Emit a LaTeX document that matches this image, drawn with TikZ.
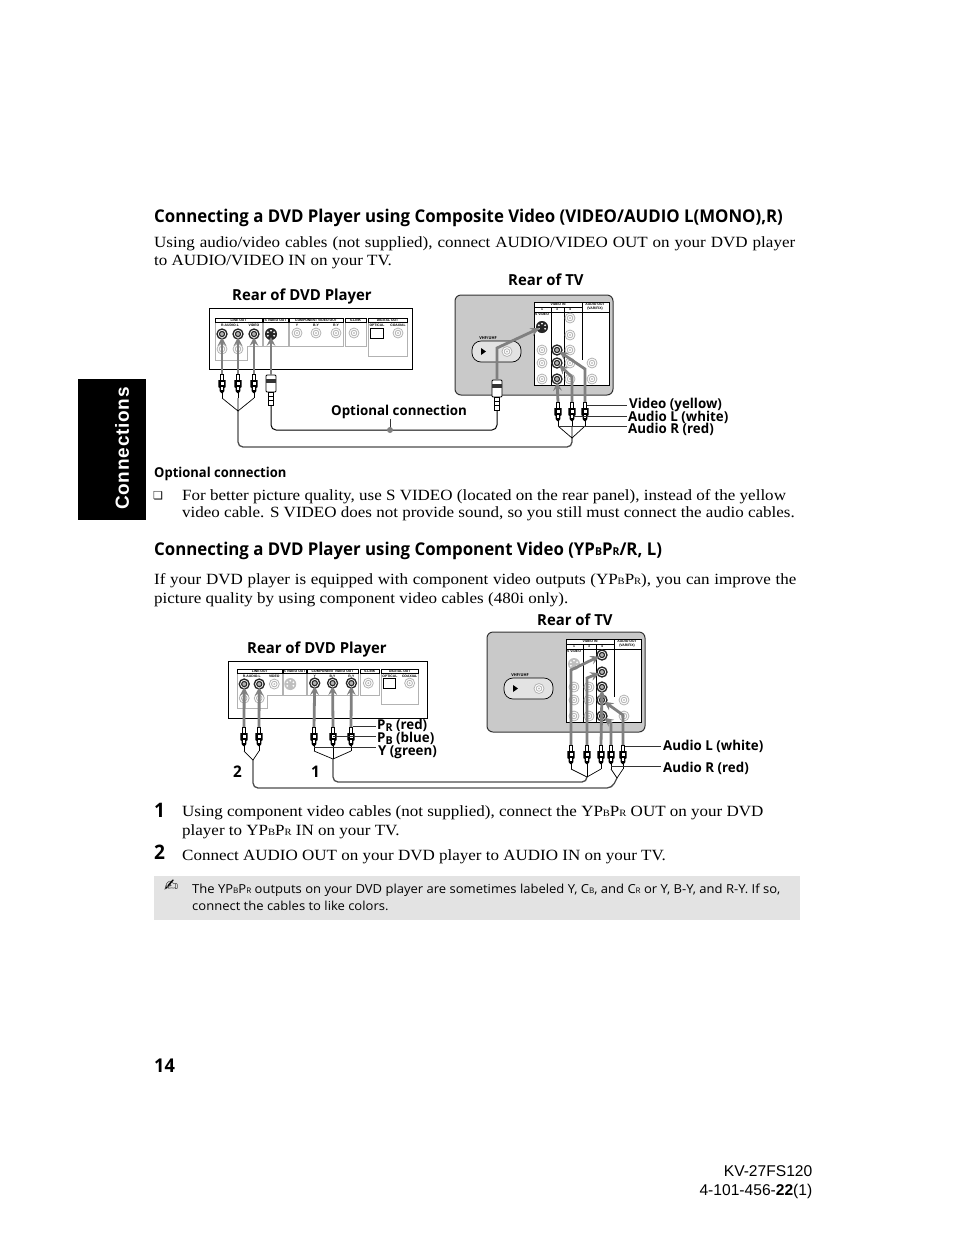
\documentclass[tikz,border=0pt]{standalone}
\usepackage{fontspec}
\setmainfont[FakeStretch=1.09]{Liberation Serif}
\newfontfamily\headfont[FakeStretch=0.955]{Open Sans}
\newfontfamily\labelfont[FakeStretch=0.98]{Open Sans}
\newfontfamily\notefont[FakeStretch=1.05]{Open Sans}
\newfontfamily\tabfont[LetterSpace=4]{Liberation Sans}
\newfontfamily\arialfont{Liberation Sans}
\newfontfamily\symfont{DejaVu Sans}
\usetikzlibrary{shapes,arrows,positioning}
\newcommand{\sbr}[1]{\scalebox{0.62}{#1}}
\newcommand{\sbl}[1]{\raisebox{-2.5pt}{\scalebox{0.8}{#1}}}

\tikzset{
  jackoff/.pic={
    \draw[gray!60, line width=0.8pt, fill=white] (0,0) circle (5pt);
    \draw[gray!60, line width=0.8pt] (0,0) circle (2.8pt);
    \fill[gray!50] (0,0) circle (1.1pt);
  },
  jackon/.pic={
    \draw[black!85, line width=1.3pt, fill=white] (0,0) circle (5pt);
    \draw[black!85, line width=1.1pt, fill=gray!60] (0,0) circle (2.6pt);
  },
  sjackon/.pic={
    \fill[black!85] (0,0) circle (6pt);
    \foreach \a in {30,90,150,210,330} \fill[white] (\a:3.5pt) circle (1pt);
  },
  sjackoff/.pic={
    \fill[gray!50] (0,0) circle (6pt);
    \foreach \a in {30,90,150,210,330} \fill[white] (\a:3.5pt) circle (1pt);
  },
  rcaplug/.pic={
    \coordinate (-top) at (0,0);
    \coordinate (-tail) at (0,24);
    \draw[black, line width=0.6pt, fill=white] (-1.4,0) rectangle (1.4,6);
    \fill[black] (-3.6,6) -- (3.6,6) -- (3.6,13) -- (2.4,14) -- (2.4,17) -- (0.8,19) -- (-0.8,19) -- (-2.4,17) -- (-2.4,14) -- (-3.6,13) -- cycle;
    \fill[white] (-1.5,7.5) rectangle (1.5,11);
    \fill[white] (-0.6,12.5) rectangle (0.6,16);
    \draw[black, line width=0.7pt] (0,19) -- (0,24);
  },
  splug/.pic={
    \coordinate (-top) at (0,0);
    \coordinate (-tail) at (0,30);
    \draw[black, line width=0.9pt, fill=white, rounded corners=1pt] (-5,0) rectangle (5,17);
    \fill[black!80] (-5,3.5) rectangle (5,7.5);
    \draw[black, line width=0.7pt, fill=white] (-2.8,17) rectangle (2.8,30);
    \draw[black, line width=0.6pt] (-2.8,21) -- (2.8,21) (-2.8,25) -- (2.8,25);
  },
  dvdpanel/.pic={
    \coordinate (-l1) at (13,26);
    \coordinate (-l2) at (29,26);
    \coordinate (-vid) at (45,26);
    \coordinate (-sv) at (62,26);
    \coordinate (-y) at (88,25);
    \coordinate (-b) at (107,25);
    \coordinate (-r) at (127,25);
    \draw[gray!60, line width=0.5pt] (6,14) -- (6,52) -- (38,52) -- (38,38) -- (53,38) -- (53,14)
      (54,14) -- (54,38) -- (79,38) -- (79,14)
      (80,14) -- (80,38) -- (134,38) -- (134,14)
      (136,14) -- (136,38) -- (157,38) -- (157,14)
      (159,14) rectangle (198,48);
    \draw[black, line width=0.5pt, fill=white] (6,10) rectangle (53,14)
      (54,10) rectangle (79,14) (80,10) rectangle (134,14)
      (136,10) rectangle (157,14) (159,10) rectangle (198,14);
    \node[panellabel] (-a) at (29.5,12) {LINE OUT};
    \node[panellabel] (-c) at (66.5,12) {S VIDEO OUT};
    \node[panellabel] (-d) at (107,12) {COMPONENT VIDEO OUT};
    \node[panellabel] (-e) at (146.5,12) {S-LINK};
    \node[panellabel] (-f) at (178.5,12) {DIGITAL OUT};
    \node[panellabel] (-g) at (21,17.5) {R-AUDIO-L};
    \node[panellabel] (-h) at (45,17.5) {VIDEO};
    \node[panellabel] (-i) at (88,17.5) {Y};
    \node[panellabel] (-j) at (107,17.5) {B-Y};
    \node[panellabel] (-k) at (127,17.5) {R-Y};
    \node[panellabel] (-m) at (168,17.5) {OPTICAL};
    \node[panellabel] (-n) at (189,17.5) {COAXIAL};
    \pic at (13,26) {jackoff};
    \pic at (29,26) {jackoff};
    \pic at (45,26) {jackoff};
    \pic at (13,41) {jackoff};
    \pic at (29,41) {jackoff};
    \pic at (62,26) {sjackoff};
    \pic at (88,25) {jackoff};
    \pic at (107,25) {jackoff};
    \pic at (127,25) {jackoff};
    \pic at (145,25) {jackoff};
    \draw[black, line width=0.4pt] (161,20) rectangle (174,30);
    \pic at (189,25) {jackoff};
  },
  tvpanel/.pic={
    \coordinate (-s) at (87,32);
    \coordinate (-a1) at (115,23);
    \coordinate (-a2) at (115,40);
    \coordinate (-a3) at (115,55);
    \coordinate (-a4) at (115,68);
    \coordinate (-a5) at (115,84);
    \coordinate (-b3) at (102,55);
    \coordinate (-b4) at (102,68);
    \coordinate (-b5) at (102,84);
    \draw[black!80, line width=1pt, fill=gray!42, rounded corners=6pt] (0,0) rectangle (158,100);
    \draw[black, line width=0.5pt, fill=white] (79,7) rectangle (154,90);
    \draw[black, line width=0.4pt] (79,12) -- (127,12) (79,17) -- (154,17)
      (96,12) -- (96,90) (109,12) -- (109,90) (127,7) -- (127,65);
    \node[panellabel] (-t) at (103,9.5) {VIDEO IN};
    \node[panellabel] (-u) at (87,14.5) {1};
    \node[panellabel] (-v) at (102,14.5) {3};
    \node[panellabel] (-w) at (115,14.5) {4};
    \node[panellabel] (-x) at (140,9.5) {AUDIO OUT};
    \node[panellabel] (-z) at (140,13.5) {(VAR/FIX)};
    \node[panellabel] (-o) at (87,19.5) {S VIDEO};
    \draw[black, line width=0.7pt, fill=gray!22, rounded corners=9pt] (17,46) rectangle (66,67);
    \node[panellabel, font=\labelfont\bfseries\fontsize{4}{4}\selectfont] (-q) at (33,43) {VHF/UHF};
    \fill[black] (26,53) -- (31,56.5) -- (26,60) -- cycle;
    \pic at (52,56.5) {jackoff};
    \pic at (87,32) {sjackoff};
    \pic at (87,55) {jackoff};
    \pic at (87,68) {jackoff};
    \pic at (87,84) {jackoff};
    \pic at (102,55) {jackoff};
    \pic at (102,68) {jackoff};
    \pic at (102,84) {jackoff};
    \pic at (115,23) {jackoff};
    \pic at (115,40) {jackoff};
    \pic at (115,55) {jackoff};
    \pic at (115,68) {jackoff};
    \pic at (115,84) {jackoff};
    \pic at (137,68) {jackoff};
    \pic at (137,84) {jackoff};
  },
}

\begin{document}
\begin{tikzpicture}[
    x=1pt, y=-1pt,
    bodytext/.style={anchor=base west, inner sep=0pt, font=\fontsize{15.6}{18}\selectfont},
    heading/.style={anchor=base west, inner sep=0pt, font=\headfont\bfseries\fontsize{17.6}{20}\selectfont},
    subheading/.style={anchor=base west, inner sep=0pt, font=\headfont\bfseries\fontsize{13.6}{16}\selectfont},
    difflabel/.style={anchor=base west, inner sep=0pt, font=\labelfont\bfseries\fontsize{13.6}{15}\selectfont},
    titlelabel/.style={anchor=base west, inner sep=0pt, font=\labelfont\bfseries\fontsize{15.2}{17}\selectfont},
    steplabel/.style={anchor=base west, inner sep=0pt, font=\headfont\bfseries\fontsize{20}{22}\selectfont},
    notetext/.style={anchor=base west, inner sep=0pt, font=\notefont\fontsize{12.4}{15}\selectfont},
    panellabel/.style={inner sep=0pt, font=\arialfont\bfseries\fontsize{3.4}{4}\selectfont},
    signal/.style={line width=2.8pt, draw=gray, ->, >=stealth, shorten >=3pt},
    cable/.style={line width=1.3pt, draw=black!70, rounded corners=5pt},
    branch/.style={line width=0.7pt, draw=black},
    leader/.style={line width=0.6pt, draw=black!80},
]
\useasboundingbox (0,0) rectangle (954,1235);

% side tab
\fill[black] (78,379) rectangle (146,520);
\node (tab) [rotate=90, text=white, inner sep=0pt, font=\tabfont\bfseries\fontsize{19}{20}\selectfont] at (122,448.5) {Connections};

% first section text
\node (head1) [heading] at (154,222) {Connecting a DVD Player using Composite Video (VIDEO/AUDIO L(MONO),R)};
\node (intro1a) [bodytext] at (154,247) {\spaceskip=5pt Using audio/video cables (not supplied), connect AUDIO/VIDEO OUT on your DVD player};
\node (intro1b) [bodytext] at (154,265) {to AUDIO/VIDEO IN on your TV.};

% first diagram: DVD player
\node (dvdtitleA) [titlelabel] at (232,300) {Rear of DVD Player};
\draw[black, line width=1pt] (209,308) rectangle (412,369);
\pic (dvdA) at (209,308) {dvdpanel};
\pic at (dvdA-l1) {jackon};
\pic at (dvdA-l2) {jackon};
\pic at (dvdA-vid) {jackon};
\pic at (dvdA-sv) {sjackon};
\pic (plugA1) at (222,374) {rcaplug};
\pic (plugA2) at (238,374) {rcaplug};
\pic (plugA3) at (254,374) {rcaplug};
\pic (plugA4) at (271,375) {splug};

% first diagram: TV
\node (tvtitleA) [titlelabel] at (508,285) {Rear of TV};
\pic (tvA) at (455,295) {tvpanel};
\pic at (tvA-s) {sjackon};
\pic at (tvA-b3) {jackon};
\pic at (tvA-b4) {jackon};
\pic at (tvA-b5) {jackon};
\pic (plugA5) at (497,380) {splug};
\pic (plugA6) at (558,402) {rcaplug};
\pic (plugA7) at (572,402) {rcaplug};
\pic (plugA8) at (585,402) {rcaplug};

% first diagram: arrows
\draw [signal] (plugA1-top) -- (dvdA-l1);
\draw [signal] (plugA2-top) -- (dvdA-l2);
\draw [signal] (plugA3-top) -- (dvdA-vid);
\draw [signal] (plugA4-top) -- (dvdA-sv);
\coordinate (bendA1) at (497,348);
\coordinate (bendA2) at (572,377);
\coordinate (bendA3) at (585,369);
\draw [signal] (plugA5-top) -- (bendA1) -- (tvA-s);
\draw [signal] (plugA6-top) -- (tvA-b5);
\draw [signal] (plugA7-top) -- (bendA2) -- (tvA-b4);
\draw [signal] (plugA8-top) -- (bendA3) -- (tvA-b3);

% first diagram: cables
\coordinate (forkA1) at (238,411);
\coordinate (forkA2) at (572,438);
\coordinate (dotA) at (390,430);
\coordinate (dotlabelA) at (390,419);
\draw [branch] (plugA1-tail) -- (forkA1) -- (plugA2-tail);
\draw [branch] (plugA3-tail) -- (forkA1);
\draw [branch] (plugA6-tail) -- (forkA2) -- (plugA7-tail);
\draw [branch] (plugA8-tail) -- (forkA2);
\draw [cable] (forkA1) |- (572,447) -- (forkA2);
\draw [cable, line width=1pt, draw=black] (plugA4-tail) |- (dotA) -| (plugA5-tail);
\draw [leader] (dotlabelA) -- (dotA);
\fill[gray] (dotA) circle (3pt);
\node (optlabel) [difflabel] at (331,415) {Optional connection};

% first diagram: leaders
\node (videoY) [difflabel] at (629,408) {Video (yellow)};
\node (audioLA) [difflabel] at (628,421) {Audio L (white)};
\node (audioRA) [difflabel] at (628,433) {Audio R (red)};
\draw [leader] (587,405) -- (627,405);
\draw [leader] (573,416) -- (627,416);
\draw [leader] (558,426) -- (627,426);

% optional connection text
\node (opthead) [subheading] at (154,477) {Optional connection};
\node (optbox) [anchor=base west, inner sep=0pt, font=\symfont\fontsize{11}{12}\selectfont] at (153,499) {❏};
\node (opt1) [bodytext] at (182,500) {For better picture quality, use S VIDEO (located on the rear panel), instead of the yellow};
\node (opt2) [bodytext] at (182,517) {video cable. S VIDEO does not provide sound, so you still must connect the audio cables.};

% second section text
\node (head2) [heading] at (154,555) {Connecting a DVD Player using Component Video (YP\sbr{B}P\sbr{R}/R, L)};
\node (intro2a) [bodytext] at (154,584) {\spaceskip=4.7pt If your DVD player is equipped with component video outputs (YP\sbr{B}P\sbr{R}), you can improve the};
\node (intro2b) [bodytext] at (154,603) {picture quality by using component video cables (480i only).};

% second diagram: DVD player
\node (dvdtitleB) [titlelabel] at (247,653) {Rear of DVD Player};
\draw[black, line width=1pt] (228,661) rectangle (427,718);
\pic (dvdB) at (232,659.6) [scale=0.94] {dvdpanel};
\pic at (dvdB-l1) {jackon};
\pic at (dvdB-l2) {jackon};
\pic at (dvdB-y) {jackon};
\pic at (dvdB-b) {jackon};
\pic at (dvdB-r) {jackon};
\pic (plugB1) at (244,727) {rcaplug};
\pic (plugB2) at (259,727) {rcaplug};
\pic (plugB3) at (314,727) {rcaplug};
\pic (plugB4) at (333,727) {rcaplug};
\pic (plugB5) at (351,727) {rcaplug};

% second diagram: TV
\node (tvtitleB) [titlelabel] at (537,625) {Rear of TV};
\pic (tvB) at (487,632) {tvpanel};
\pic at (tvB-a1) {jackon};
\pic at (tvB-a2) {jackon};
\pic at (tvB-a3) {jackon};
\pic at (tvB-a4) {jackon};
\pic at (tvB-a5) {jackon};
\pic (plugB6) at (571,745) {rcaplug};
\pic (plugB7) at (587,745) {rcaplug};
\pic (plugB8) at (601,745) {rcaplug};
\pic (plugB9) at (611,745) {rcaplug};
\pic (plugB10) at (623,745) {rcaplug};

% second diagram: arrows
\draw [signal] (plugB1-top) -- (dvdB-l1);
\draw [signal] (plugB2-top) -- (dvdB-l2);
\draw [signal] (plugB3-top) -- (dvdB-y);
\draw [signal] (plugB4-top) -- (dvdB-b);
\draw [signal] (plugB5-top) -- (dvdB-r);
\coordinate (bendB1) at (571,670);
\coordinate (bendB2) at (587,678);
\coordinate (bendB3) at (611,723);
\coordinate (bendB4) at (623,715);
\draw [signal] (plugB6-top) -- (bendB1) -- (tvB-a1);
\draw [signal] (plugB7-top) -- (bendB2) -- (tvB-a2);
\draw [signal] (plugB8-top) -- (tvB-a3);
\draw [signal] (plugB9-top) -- (bendB3) -- (tvB-a5);
\draw [signal] (plugB10-top) -- (bendB4) -- (tvB-a4);

% second diagram: cables
\coordinate (forkB1) at (253,760);
\coordinate (forkB2) at (333,759);
\coordinate (forkB3) at (587,777);
\coordinate (forkB4) at (617,778);
\draw [branch] (plugB1-tail) -- (forkB1) -- (plugB2-tail);
\draw [branch] (plugB3-tail) -- (forkB2) -- (plugB5-tail);
\draw [branch] (plugB4-tail) -- (forkB2);
\draw [branch] (plugB6-tail) -- (forkB3) -- (plugB8-tail);
\draw [branch] (plugB7-tail) -- (forkB3);
\draw [branch] (plugB9-tail) -- (forkB4) -- (plugB10-tail);
\draw [cable] (forkB2) |- (587,782) -- (forkB3);
\draw [cable] (forkB1) |- (612,788) -- (forkB4);

% second diagram: leaders
\node (prlabel) [difflabel] at (377,729) {P\sbl{R} (red)};
\node (pblabel) [difflabel] at (377,742) {P\sbl{B} (blue)};
\node (ylabel) [difflabel] at (378,755) {Y (green)};
\draw [leader] (353,726) -- (376,726);
\draw [leader] (333,736) -- (376,736);
\draw [leader] (314,747) -- (376,747);
\node (audioLB) [difflabel] at (663,750) {Audio L (white)};
\node (audioRB) [difflabel] at (663,772) {Audio R (red)};
\draw [leader] (625,746) -- (661,746);
\draw [leader] (611,766) -- (661,766);
\node (num2) [subheading, font=\headfont\bfseries\fontsize{16}{18}\selectfont] at (233,777) {2};
\node (num1) [subheading, font=\headfont\bfseries\fontsize{16}{18}\selectfont] at (311,777) {1};

% numbered steps
\node (step1) [steplabel] at (154,817) {1};
\node (step1a) [bodytext] at (182,816) {Using component video cables (not supplied), connect the YP\sbr{B}P\sbr{R} OUT on your DVD};
\node (step1b) [bodytext] at (182,835) {player to YP\sbr{B}P\sbr{R} IN on your TV.};
\node (step2) [steplabel] at (154,859) {2};
\node (step2a) [bodytext] at (182,860) {Connect AUDIO OUT on your DVD player to AUDIO IN on your TV.};

% note box
\fill[gray!22] (154,876) rectangle (800,920);
\node (pencil) [anchor=base west, inner sep=0pt, font=\symfont\fontsize{17}{18}\selectfont] at (164,891) {✍};
\node (note1) [notetext] at (192,893) {The YP\sbr{B}P\sbr{R} outputs on your DVD player are sometimes labeled Y, C\sbr{B}, and C\sbr{R} or Y, B-Y, and R-Y. If so,};
\node (note2) [notetext] at (192,910) {connect the cables to like colors.};

% page number and model
\node (page) [anchor=base west, inner sep=0pt, font=\headfont\bfseries\fontsize{19}{20}\selectfont] at (154,1072) {14};
\node (model) [anchor=base east, inner sep=0pt, font=\arialfont\fontsize{15.6}{17}\selectfont] at (812.5,1176) {KV-27FS120};
\node (partno) [anchor=base east, inner sep=0pt, font=\arialfont\fontsize{15.6}{17}\selectfont] at (812.5,1195) {4-101-456-\textbf{22}(1)};
\end{tikzpicture}
\end{document}
